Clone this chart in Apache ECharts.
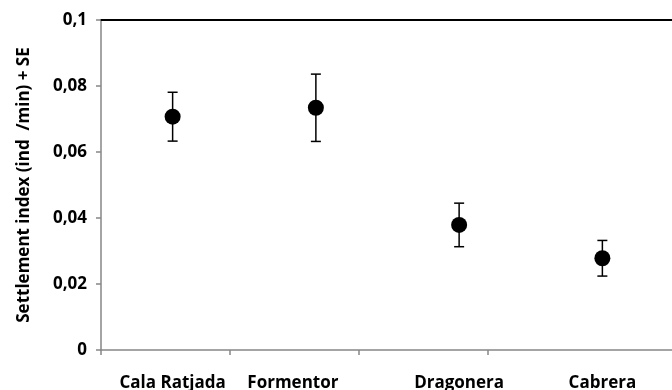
<!DOCTYPE html>
<html>
<head>
<meta charset="utf-8">
<script src="https://cdn.jsdelivr.net/npm/echarts@6/dist/echarts.min.js"></script>
<style>
html,body{margin:0;padding:0;background:#fff;}
#chart{width:672px;height:390px;}
</style>
</head>
<body>
<div id="chart"></div>
<script>
var categories = ['Cala Ratjada', 'Formentor', 'Dragonera', 'Cabrera'];
var means = [0.0707, 0.0734, 0.0379, 0.0278];
var se = [0.0074, 0.0102, 0.0066, 0.0054];
var yTicks = [0, 0.02, 0.04, 0.06, 0.08, 0.1];

var FONT = '"Open Sans", sans-serif';
var chart = echarts.init(document.getElementById('chart'));

var catData = categories.map(function (c, i) {
  if (i === 1) return { value: c, textStyle: { padding: [0, 46, 0, 0] } };
  return c;
});

var errData = categories.map(function (c, i) {
  return [i, means[i] - se[i], means[i] + se[i]];
});

var option = {
  animation: false,
  backgroundColor: '#fff',
  grid: { left: 101, top: 20, width: 573, height: 330, containLabel: false, outerBoundsMode: 'none' },
  xAxis: [
    {
      type: 'category', data: catData, position: 'bottom', boundaryGap: true,
      axisLine: { lineStyle: { color: '#868686', width: 1.5 } },
      axisTick: { show: false },
      axisLabel: { color: '#000', fontFamily: FONT, fontWeight: 'bold', fontSize: 17, margin: 25 }
    },
    {
      type: 'value', position: 'bottom', min: 0, max: 4.445, interval: 1,
      axisLine: { show: false },
      axisTick: { show: true, length: 5, customValues: [0, 1, 2, 3], lineStyle: { color: '#868686', width: 1.5 } },
      axisLabel: { show: false },
      splitLine: { show: false }
    },
    {
      type: 'category', data: categories, position: 'top',
      axisLine: { lineStyle: { color: '#000', width: 2 } },
      axisTick: { show: false }, axisLabel: { show: false }
    }
  ],
  yAxis: {
    type: 'value', min: yTicks[0], max: yTicks[yTicks.length - 1], interval: 0.02,
    name: 'Settlement index (ind  /min) + SE',
    nameLocation: 'middle', nameGap: 68,
    nameTextStyle: { color: '#000', fontFamily: FONT, fontWeight: 'bold', fontSize: 17 },
    axisLine: { show: true, lineStyle: { color: '#868686', width: 1.5 } },
    axisTick: { show: true, length: 5, lineStyle: { color: '#868686', width: 1.5 } },
    axisLabel: {
      color: '#000', fontFamily: FONT, fontWeight: 'bold', fontSize: 17, margin: 14,
      formatter: function (v) { return String(parseFloat(v.toFixed(2))).replace('.', ','); }
    },
    splitLine: { show: false }
  },
  series: [
    {
      type: 'custom',
      xAxisIndex: 0,
      data: errData,
      renderItem: function (params, api) {
        var x = api.value(0);
        var lo = api.coord([x, api.value(1)]);
        var hi = api.coord([x, api.value(2)]);
        var hw = 5;
        var st = { stroke: '#000', lineWidth: 1.5 };
        return {
          type: 'group',
          children: [
            { type: 'line', shape: { x1: lo[0], y1: lo[1], x2: hi[0], y2: hi[1] }, style: st },
            { type: 'line', shape: { x1: lo[0] - hw, y1: lo[1], x2: lo[0] + hw, y2: lo[1] }, style: st },
            { type: 'line', shape: { x1: hi[0] - hw, y1: hi[1], x2: hi[0] + hw, y2: hi[1] }, style: st }
          ]
        };
      },
      z: 2
    },
    {
      type: 'scatter',
      xAxisIndex: 0,
      data: means,
      symbol: 'circle',
      symbolSize: 16,
      itemStyle: { color: '#000', opacity: 1 },
      z: 3
    }
  ]
};
chart.setOption(option);
</script>
</body>
</html>
